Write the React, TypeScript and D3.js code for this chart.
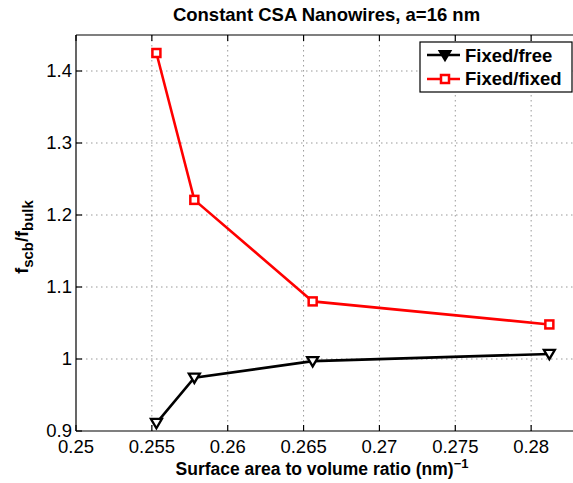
import React from "react";
import * as d3 from "d3";

// Surface-to-volume ratio (nm^-1) for each wire cross-section
const ratios = [0.2553, 0.2578, 0.2656, 0.2812];
// Normalised frequency f_scb / f_bulk
const fixedFree = [0.911, 0.974, 0.997, 1.007];
const fixedFixed = [1.425, 1.221, 1.08, 1.048];

const xTicks = [0.25, 0.255, 0.26, 0.265, 0.27, 0.275, 0.28];
const yTicks = [0.9, 1, 1.1, 1.2, 1.3, 1.4];

const W = 573;
const H = 483;
const left = 76;
const top = 35;
const bottom = 431;
const right = 607;

const font = "'Liberation Sans', Arial, Helvetica, sans-serif";

export default function App() {
  const x = d3.scaleLinear().domain([0.25, 0.285]).range([left, right]);
  const y = d3.scaleLinear().domain([0.9, 1.45]).range([bottom, top]);

  const line = d3
    .line<number>()
    .x((_, i) => x(ratios[i]))
    .y((d) => y(d));

  const tri = (cx: number, cy: number, s = 5.5) =>
    `M${cx - s},${cy - s * 0.75}L${cx + s},${cy - s * 0.75}L${cx},${cy + s * 0.95}Z`;

  const fmtY = (v: number) => (v === 1 ? "1" : d3.format(".1f")(v));

  return (
    <svg
      width={W}
      height={H}
      style={{ position: "absolute", left: 0, top: 0, background: "#fff" }}
      fontFamily={font}
    >
      <rect x={0} y={0} width={W} height={H} fill="#fff" />
      {/* grid */}
      <g stroke="#999" strokeWidth={1} strokeDasharray="1.5 3.5">
        {xTicks.slice(1).map((t) => (
          <line key={"gx" + t} x1={x(t)} x2={x(t)} y1={top} y2={bottom} />
        ))}
        {yTicks.slice(1).map((t) => (
          <line key={"gy" + t} x1={left} x2={W} y1={y(t)} y2={y(t)} />
        ))}
      </g>
      {/* axes box */}
      <g stroke="#000" strokeWidth={1.2} fill="none">
        <line x1={left} x2={right} y1={top} y2={top} />
        <line x1={left} x2={right} y1={bottom} y2={bottom} />
        <line x1={left} x2={left} y1={top} y2={bottom} />
        {xTicks.map((t) => (
          <g key={"tx" + t}>
            <line x1={x(t)} x2={x(t)} y1={bottom} y2={bottom - 6} />
            <line x1={x(t)} x2={x(t)} y1={top} y2={top + 6} />
          </g>
        ))}
        {yTicks.map((t) => (
          <line key={"ty" + t} x1={left} x2={left + 6} y1={y(t)} y2={y(t)} />
        ))}
      </g>
      {/* tick labels */}
      <g fontSize={18.5} fill="#000">
        {xTicks.map((t) => (
          <text key={"lx" + t} x={x(t)} y={453} textAnchor="middle">
            {String(t)}
          </text>
        ))}
        {yTicks.map((t) => (
          <text key={"ly" + t} x={left - 4} y={y(t) + 5.5} textAnchor="end">
            {fmtY(t)}
          </text>
        ))}
      </g>
      {/* series */}
      <path d={line(fixedFixed) ?? ""} fill="none" stroke="#ff0000" strokeWidth={2.6} />
      <path d={line(fixedFree) ?? ""} fill="none" stroke="#000" strokeWidth={2.6} />
      {fixedFixed.map((v, i) => (
        <rect
          key={"sq" + i}
          x={x(ratios[i]) - 4}
          y={y(v) - 4}
          width={8}
          height={8}
          fill="#fff"
          stroke="#ff0000"
          strokeWidth={2.5}
        />
      ))}
      {fixedFree.map((v, i) => (
        <path key={"tr" + i} d={tri(x(ratios[i]), y(v))} fill="#fff" stroke="#000" strokeWidth={2.3} />
      ))}
      {/* legend */}
      <g>
        <rect x={420} y={42} width={152} height={50} fill="#fff" stroke="#000" strokeWidth={1.2} />
        <line x1={427} x2={460} y1={55} y2={55} stroke="#000" strokeWidth={2.6} />
        <path d={tri(445, 55)} fill="#000" stroke="#000" strokeWidth={2} />
        <line x1={427} x2={460} y1={79} y2={79} stroke="#ff0000" strokeWidth={2.6} />
        <rect x={441} y={75} width={8} height={8} fill="#fff" stroke="#ff0000" strokeWidth={2.5} />
        <text x={465} y={62} fontSize={18.5} fontWeight="bold">Fixed/free</text>
        <text x={465} y={85} fontSize={18.5} fontWeight="bold">Fixed/fixed</text>
      </g>
      {/* title */}
      <text x={326.5} y={21} fontSize={18.5} fontWeight="bold" textAnchor="middle">
        Constant CSA Nanowires, a=16 nm
      </text>
      {/* x label */}
      <text x={322} y={475} fontSize={17.5} fontWeight="bold" textAnchor="middle">
        Surface area to volume ratio (nm)
        <tspan dy={-7} fontSize={13}>−1</tspan>
      </text>
      {/* y label */}
      <text
        transform={`translate(28,237) rotate(-90)`}
        fontSize={18}
        fontWeight="bold"
        textAnchor="middle"
      >
        f<tspan dy={5} fontSize={15}>scb</tspan>
        <tspan dy={-5}>/f</tspan>
        <tspan dy={5} fontSize={15}>bulk</tspan>
      </text>
    </svg>
  );
}
